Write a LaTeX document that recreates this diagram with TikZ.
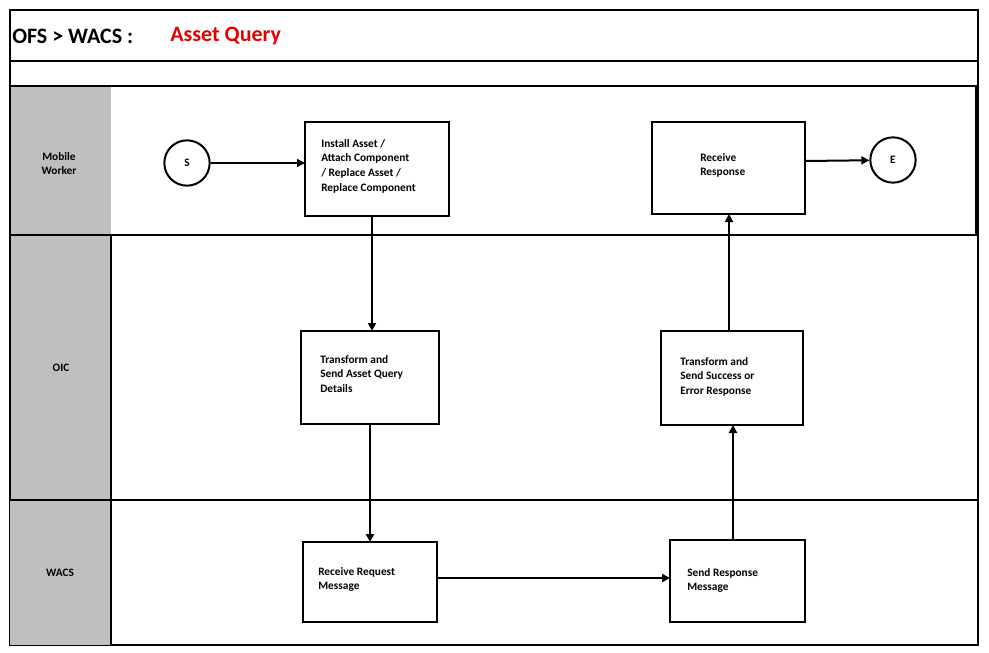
\documentclass[tikz,border=0pt]{standalone}
\usepackage{fontspec}
\setmainfont{Carlito}
\usetikzlibrary{arrows.meta}
\begin{document}
\begin{tikzpicture}[x=0.75pt,y=-0.75pt,
  box/.style={draw,line width=1.5pt,inner sep=0pt},
  lbl/.style={font=\bfseries\fontsize{8.5}{11}\selectfont,align=left,anchor=north west,inner sep=0pt},
  circ/.style={draw,circle,line width=1.5pt,minimum size=34pt,inner sep=0pt,font=\bfseries\fontsize{8.5}{10}\selectfont},
  arr/.style={line width=1.5pt,-{Triangle[length=6pt,width=6pt]}},
  lane/.style={font=\bfseries\fontsize{8.5}{10.5}\selectfont,align=center},
  ttl/.style={anchor=west,inner sep=0pt,font=\bfseries\fontsize{16.5}{20}\selectfont}]
\useasboundingbox (0,0) rectangle (989,653);
% frame
\draw[line width=1pt] (10,10) rectangle (978,645);
\draw[line width=1pt] (10,61) -- (978,61);
\fill[gray!50] (10,86) rectangle (111,645);
\draw[line width=1.5pt] (10,86) rectangle (976,235);
\draw[line width=1.5pt] (10,235) rectangle (111,500);
\draw[line width=1pt] (111,235) -- (976,235);
\draw[line width=1pt] (10,500) -- (978,500);
\draw[line width=1pt] (111,500) -- (111,645);
\node[ttl] (title) at (12,36) {OFS > WACS :};
\node[ttl,text=red!90!black] (title2) at (170,36) {Asset Query};
\node[lane] (l1) at (59,164) {Mobile\\Worker};
\node[lane] (l2) at (61,368) {OIC};
\node[lane] (l3) at (60,573) {WACS};
% boxes
\node[circ] (s) at (187,163) {S};
\node[circ] (e) at (893,160) {E};
\draw[box] (305,122) rectangle (449,216);
\node[lbl] (t1) at (321,139) {Install Asset /\\Attach Component\\/ Replace Asset /\\Replace Component};
\draw[box] (652,122) rectangle (805,214);
\node[lbl] (t2) at (700,153) {Receive\\Response};
\draw[box] (301,331) rectangle (439,424);
\node[lbl] (t3) at (320,355) {Transform and\\Send Asset Query\\Details};
\draw[box] (661,331) rectangle (803,425);
\node[lbl] (t4) at (680,357) {Transform and\\Send Success or\\Error Response};
\draw[box] (303,542) rectangle (437,622);
\node[lbl] (t5) at (318,567) {Receive Request\\Message};
\draw[box] (670,540) rectangle (805,622);
\node[lbl] (t6) at (687,568) {Send Response\\Message};
\coordinate (a1) at (305,163);
\coordinate (a2s) at (372,216); \coordinate (a2e) at (372,331);
\coordinate (a3s) at (370,424); \coordinate (a3e) at (370,542);
\coordinate (a4s) at (437,578); \coordinate (a4e) at (670,578);
\coordinate (a5s) at (733,540); \coordinate (a5e) at (733,425);
\coordinate (a6s) at (729,331); \coordinate (a6e) at (729,214);
\coordinate (a7s) at (805,161);
\draw[line width=1pt,-{Triangle[length=6pt,width=6pt]}] (s) -- (a1);
\draw[arr] (a2s) -- (a2e);
\draw[arr] (a3s) -- (a3e);
\draw[arr] (a4s) -- (a4e);
\draw[arr] (a5s) -- (a5e);
\draw[arr] (a6s) -- (a6e);
\draw[arr] (a7s) -- (e);
\end{tikzpicture}
\end{document}
